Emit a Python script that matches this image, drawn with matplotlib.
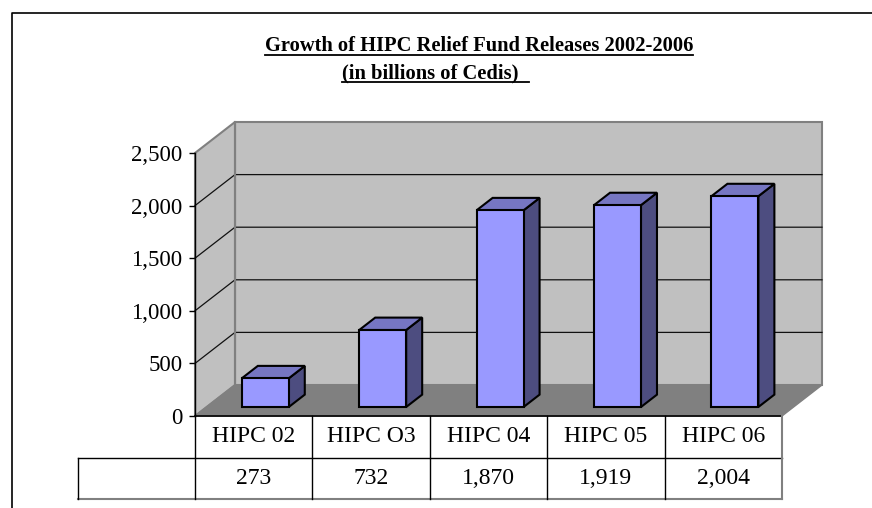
import matplotlib
matplotlib.use('Agg')
import matplotlib.pyplot as plt
from matplotlib.patches import Polygon
from matplotlib.lines import Line2D

categories = ['HIPC 02', 'HIPC O3', 'HIPC 04', 'HIPC 05', 'HIPC 06']
values = [273, 732, 1870, 1919, 2004]
yticks = [0, 500, 1000, 1500, 2000, 2500]
title_line1 = 'Growth of HIPC Relief Fund Releases 2002-2006'
title_line2 = '(in billions of Cedis)  '

plt.rcParams['font.family'] = ['Liberation Serif', 'DejaVu Serif']

W, H = 872, 508
fig = plt.figure(figsize=(W / 100, H / 100), dpi=100)


def fx(px):
    return px / W


def fy(py):
    return 1 - py / H


# front plane of the 3D box (pixels)
X0, X1 = 195, 782
Y0, Y1 = 416, 153
ax = fig.add_axes([fx(X0), fy(Y0), (X1 - X0) / W, (Y0 - Y1) / H])
n = len(categories)
ymax = yticks[-1]
ax.set_xlim(0, n)
ax.set_ylim(0, ymax)
ax.patch.set_visible(False)
for s in ['top', 'right', 'bottom']:
    ax.spines[s].set_visible(False)
ax.spines['left'].set_linewidth(1.0)
ax.spines['left'].set_zorder(10)
ax.set_xticks([])
ax.set_yticks(yticks)
ax.set_yticklabels([f'{v:,}' for v in yticks], fontsize=16.5)
ax.tick_params(axis='y', direction='out', length=4, width=1, pad=5)

ppx = n / (X1 - X0)
ppy = ymax / (Y0 - Y1)
DX = 40 * ppx
DY = 31 * ppy

wall_c = '#c0c0c0'
edge_c = '#808080'
floor_c = '#808080'

# back wall
ax.add_patch(Polygon([(DX, DY), (n + DX, DY), (n + DX, ymax + DY), (DX, ymax + DY)],
                     closed=True, facecolor=wall_c, edgecolor=edge_c, lw=1.5,
                     clip_on=False, zorder=1))
# left wall
ax.add_patch(Polygon([(0, 0), (DX, DY), (DX, ymax + DY), (0, ymax)],
                     closed=True, facecolor=wall_c, edgecolor=edge_c, lw=1.5,
                     clip_on=False, zorder=1))
# floor
ax.add_patch(Polygon([(0, 0), (n, 0), (n + DX, DY), (DX, DY)],
                     closed=True, facecolor=floor_c, edgecolor=floor_c, lw=1,
                     clip_on=False, zorder=2))
# gridlines
for v in yticks[1:-1]:
    ax.add_line(Line2D([0, DX, n + DX], [v, v + DY, v + DY], color='#111111',
                       lw=0.9, clip_on=False, zorder=3))
ax.add_line(Line2D([DX, DX], [DY, ymax + DY], color=edge_c, lw=1.5, clip_on=False, zorder=3))

# bars
f0, d = 0.29, 0.40
bw = 0.4
ox, oy = f0 * DX, f0 * DY
bdx, bdy = d * DX, d * DY
front_c = '#9999ff'
top_c = '#7676c2'
side_c = '#4d4d80'
for i, v in enumerate(values):
    xl = i + 0.5 - bw / 2 + ox
    xr = i + 0.5 + bw / 2 + ox
    yb = oy
    yt = oy + v
    kw = dict(closed=True, edgecolor='black', lw=1.5, clip_on=False, zorder=5,
              joinstyle='miter')
    ax.add_patch(Polygon([(xr, yb), (xr + bdx, yb + bdy), (xr + bdx, yt + bdy), (xr, yt)],
                         facecolor=side_c, **kw))
    ax.add_patch(Polygon([(xl, yt), (xr, yt), (xr + bdx, yt + bdy), (xl + bdx, yt + bdy)],
                         facecolor=top_c, **kw))
    ax.add_patch(Polygon([(xl, yb), (xr, yb), (xr, yt), (xl, yt)],
                         facecolor=front_c, **kw))

# data table
r1 = -42 * ppy
r2 = -83 * ppy
xleft = (78 - X0) * ppx
lk = dict(clip_on=False, zorder=6)
ax.add_line(Line2D([0, n], [0, 0], color='black', lw=1.2, **lk))
ax.add_line(Line2D([xleft, n], [r1, r1], color='black', lw=1.0, **lk))
ax.add_line(Line2D([xleft, n], [r2, r2], color=edge_c, lw=1.5, **lk))
ax.add_line(Line2D([xleft, xleft], [r1, r2], color='black', lw=1.0, **lk))
for j in range(n):
    ax.add_line(Line2D([j, j], [0, r2], color='black', lw=1.0, **lk))
ax.add_line(Line2D([n, n], [0, r2], color=edge_c, lw=1.5, **lk))
for i, (c, v) in enumerate(zip(categories, values)):
    ax.text(i + 0.5, r1 / 2, c, ha='center', va='center', fontsize=17, clip_on=False)
    ax.text(i + 0.5, (r1 + r2) / 2, f'{v:,}', ha='center', va='center', fontsize=17,
            clip_on=False)

# title
t1 = fig.text(fx(265), fy(51), title_line1, ha='left', va='baseline', fontsize=14.8,
              fontweight='bold')
t2 = fig.text(fx(342), fy(78), title_line2, ha='left', va='baseline', fontsize=14.8,
              fontweight='bold')
fig.canvas.draw()
r = fig.canvas.get_renderer()
for t, uy in [(t1, 55), (t2, 82.5)]:
    bb = t.get_window_extent(renderer=r)
    fig.add_artist(Line2D([bb.x0 / W, bb.x1 / W], [fy(uy), fy(uy)], color='black',
                          lw=1.3, transform=fig.transFigure))

# outer frame
fig.add_artist(Line2D([fx(11.5), fx(11.5), fx(880)], [fy(520), fy(12.5), fy(12.5)],
                      color='black', lw=1.2, transform=fig.transFigure))

fig.savefig('out.png', dpi=100)
